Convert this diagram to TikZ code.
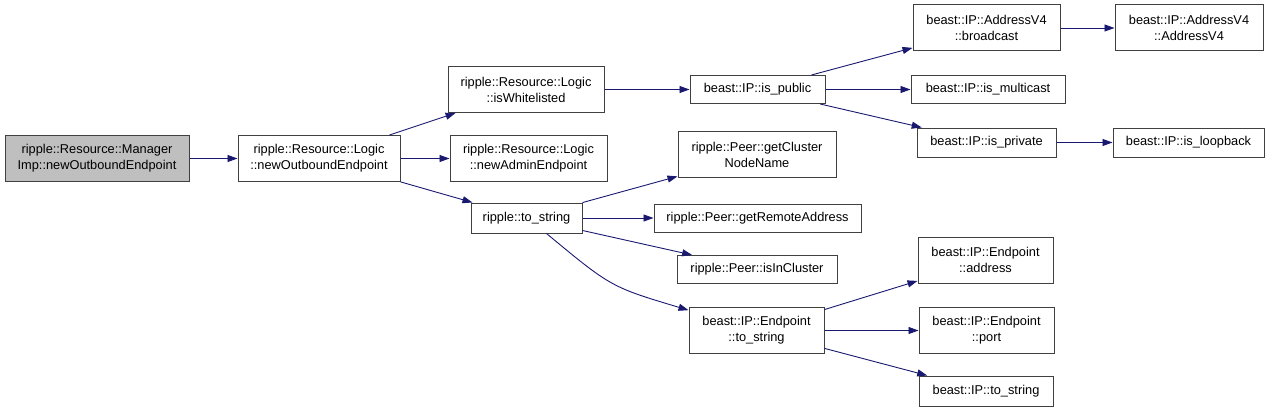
\documentclass[tikz,border=0pt]{standalone}
\usepackage{fontspec}
\setmainfont{Liberation Sans}
\usetikzlibrary{arrows.meta, positioning}

\definecolor{edgeblue}{HTML}{191970}
\definecolor{boxline}{HTML}{404040}
\definecolor{rootfill}{HTML}{BFBFBF}

\begin{document}
\begin{tikzpicture}[x=1pt, y=-1pt,
    box/.style={rectangle, draw=boxline, line width=1pt, fill=white, inner sep=0pt, align=center,
        minimum width=#1, minimum height=28pt, font=\fontsize{12.8}{16}\selectfont},
    box/.default=135pt,
    tall/.style={minimum height=46pt},
    call/.style={draw=edgeblue, line width=0.9pt, -{Triangle[length=10pt, width=7pt]}}]

    \useasboundingbox (0,0) rectangle (1269,412);

    \node (Manager) [box=184pt, tall, fill=rootfill] at (97,158.5) {ripple::Resource::Manager\\Imp::newOutboundEndpoint};
    \node (Outbound) [box=162pt, tall, right=48pt of Manager] {ripple::Resource::Logic\\::newOutboundEndpoint};
    \node (White) [box=156pt, tall] at (526,89.5) {ripple::Resource::Logic\\::isWhitelisted};
    \node (Admin) [box=157pt, tall, right=49pt of Outbound] {ripple::Resource::Logic\\::newAdminEndpoint};
    \node (RipStr) [box=111pt, minimum height=30pt] at (526.5,218) {ripple::to\_string};

    \node (Public) [box=135pt, right=85pt of White] {beast::IP::is\_public};
    \node (Cluster) [box=158pt, tall] at (757,154.5) {ripple::Peer::getCluster\\NodeName};
    \node (Remote) [box=207pt, right=71pt of RipStr] {ripple::Peer::getRemoteAddress};
    \node (InClus) [box=160pt] at (757,269.5) {ripple::Peer::isInCluster};
    \node (EpStr) [box=135pt, tall] at (756.5,330.5) {beast::IP::Endpoint\\::to\_string};

    \node (Bcast) [box=147pt, tall] at (986.5,28) {beast::IP::AddressV4\\::broadcast};
    \node (AddrV4) [box=148pt, tall, right=54pt of Bcast] {beast::IP::AddressV4\\::AddressV4};
    \node (Multi) [box=154pt, right=85pt of Public] {beast::IP::is\_multicast};
    \node (Private) [box=139pt, minimum height=29pt] at (986.5,142.5) {beast::IP::is\_private};
    \node (Loop) [box=151pt, minimum height=29pt, right=56pt of Private] {beast::IP::is\_loopback};
    \node (Address) [box=135pt, tall] at (985.5,260) {beast::IP::Endpoint\\::address};
    \node (Port) [box=135pt, tall, right=94pt of EpStr] {beast::IP::Endpoint\\::port};
    \node (IPStr) [box=134pt, minimum height=30pt] at (986,391) {beast::IP::to\_string};

    % calls
    \draw[call] (Manager) -- (Outbound);
    \draw[call] (Outbound) -- (White);
    \draw[call] (Outbound) -- (Admin);
    \draw[call] (Outbound) -- (RipStr);
    \draw[call] (White) -- (Public);
    \draw[call] (Public) -- (Bcast);
    \draw[call] (Public) -- (Multi);
    \draw[call] (Public) -- (Private);
    \draw[call] (Bcast) -- (AddrV4);
    \draw[call] (Private) -- (Loop);
    \draw[call] (RipStr) -- (Cluster);
    \draw[call] (RipStr) -- (Remote);
    \draw[call] (RipStr) -- (InClus);
    \draw[call] ([xshift=20pt]RipStr.south) .. controls (611,287) .. (EpStr);
    \draw[call] (EpStr) -- (Address);
    \draw[call] (EpStr) -- (Port);
    \draw[call] (EpStr) -- (IPStr);
\end{tikzpicture}
\end{document}
